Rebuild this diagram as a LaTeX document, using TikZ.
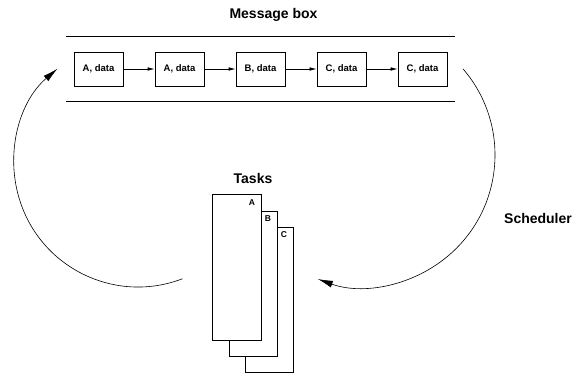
\documentclass[tikz,border=0pt]{standalone}
\usepackage{fontspec}
\setmainfont{Liberation Sans}
\usetikzlibrary{arrows.meta,calc}
\begin{document}
\begin{tikzpicture}[x=1pt,y=1pt,
  msg/.style={draw,line width=0.7pt,minimum width=49pt,minimum height=34pt,inner sep=0pt,
    font=\fontsize{9.5}{11}\selectfont\bfseries},
  title/.style={font=\fontsize{14}{16}\selectfont\bfseries,inner sep=0pt},
  tasklbl/.style={font=\fontsize{8.5}{10}\selectfont\bfseries,inner sep=0pt},
  taskbox/.style={draw,fill=white,line width=0.7pt},
  flow/.style={line width=0.6pt,-{Latex[length=7pt,width=3.5pt]}},
  sched/.style={line width=0.6pt,-{Latex[length=15pt,width=7pt]}},
  rule/.style={line width=0.8pt}]
\useasboundingbox (0,0) rectangle (580,373);
% title
\node[title] (mbt) at (273.5,358) {Message box};
% rules
\coordinate (tl) at (66,337); \coordinate (tr) at (455,337);
\coordinate (bl) at (66,272); \coordinate (br) at (455,272);
\draw[rule] (tl) -- (tr);
\draw[rule] (bl) -- (br);
% message boxes
\node[msg] (m1) at (98.5,304) {A, data};
\node[msg] (m2) at (179.5,304) {A, data};
\node[msg] (m3) at (260.5,304) {B, data};
\node[msg] (m4) at (341.5,304) {C, data};
\node[msg] (m5) at (422.5,304) {C, data};
\draw[flow] (m1) -- (m2);
\draw[flow] (m2) -- (m3);
\draw[flow] (m3) -- (m4);
\draw[flow] (m4) -- (m5);
% tasks
\node[title] (tt) at (253,195) {Tasks};
\draw[taskbox] (245,146) rectangle (293,1);
\draw[taskbox] (229,162) rectangle (277,17);
\draw[taskbox] (212,179) rectangle (261,33);
\node[tasklbl] (ta) at (252,170) {A};
\node[tasklbl] (tb) at (268,154) {B};
\node[tasklbl] (tc) at (284,138) {C};
% scheduler
\node[title] (sc) at (538,155) {Scheduler};
\coordinate (ls) at ($(138,210)+(-69:124)$);
\coordinate (rs) at ($(363,218)+(40.7:132)$);
\draw[sched] (ls) arc[start angle=-69,end angle=-229.5,radius=124];
\draw[sched] (rs) arc[start angle=40.7,end angle=-110,radius=132];
\end{tikzpicture}
\end{document}
